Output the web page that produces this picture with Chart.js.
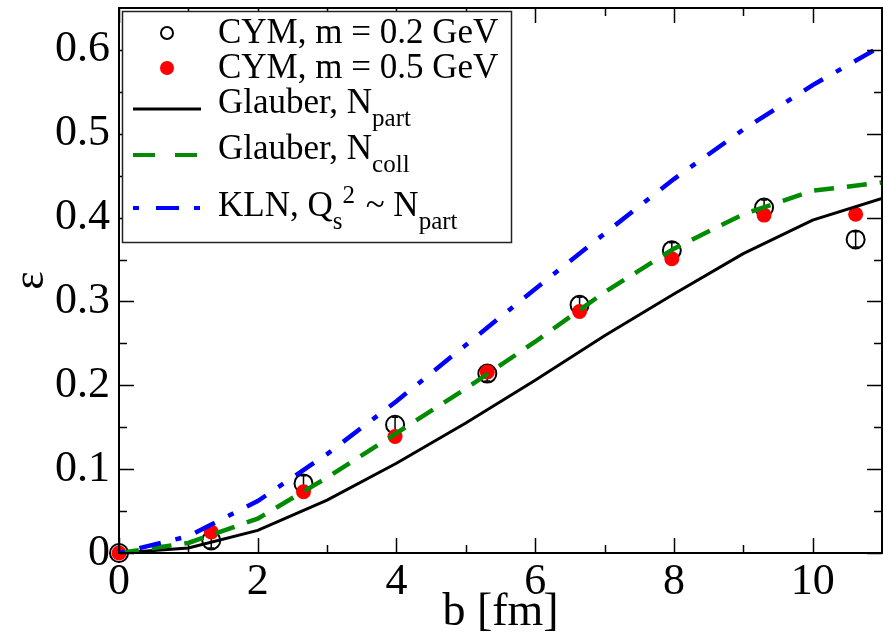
<!DOCTYPE html>
<html>
<head>
<meta charset="utf-8">
<script src="https://cdn.jsdelivr.net/npm/chart.js@4.4.1/dist/chart.umd.min.js"></script>
<style>
html,body{margin:0;padding:0;background:#fff;}
#c{display:block;}
</style>
</head>
<body>
<canvas id="c" width="883" height="636"></canvas>
<script>
// ---- data ----
const bLine = [0, 1, 2, 3, 4, 5, 6, 7, 8, 9, 10, 11];
const glauberNpart = [0, 0.006, 0.027, 0.063, 0.107, 0.155, 0.206, 0.259, 0.309, 0.357, 0.397, 0.423];
const glauberNcoll = [0, 0.012, 0.041, 0.090, 0.143, 0.196, 0.252, 0.311, 0.363, 0.404, 0.432, 0.442];
const klnQs = [0, 0.020, 0.062, 0.118, 0.181, 0.248, 0.315, 0.381, 0.446, 0.505, 0.558, 0.605];

const bCYM = [0, 1.33, 2.66, 3.98, 5.31, 6.64, 7.97, 9.30, 10.62];
const cymM02 = [0, 0.015, 0.083, 0.153, 0.214, 0.296, 0.361, 0.412, 0.374];
const cymM02Err = [0, 0.009, 0.009, 0.009, 0.009, 0.009, 0.009, 0.009, 0.009];
const cymM05 = [0, 0.025, 0.073, 0.139, 0.216, 0.288, 0.351, 0.403, 0.404];

const xTicks = [0, 2, 4, 6, 8, 10];
const xMinorTicks = [1, 3, 5, 7, 9, 11];
const yTicks = [0, 0.1, 0.2, 0.3, 0.4, 0.5, 0.6];
const yMinorTicks = [0.05, 0.15, 0.25, 0.35, 0.45, 0.55, 0.65];

const seriesNames = ["CYM, m = 0.2 GeV", "CYM, m = 0.5 GeV", "Glauber, Npart", "Glauber, Ncoll", "KLN, Qs2 ~ Npart"];
// rich legend text: [text, 0 normal | 1 subscript | 2 superscript]
const legendParts = [
  [["CYM, m = 0.2 GeV", 0]],
  [["CYM, m = 0.5 GeV", 0]],
  [["Glauber, N", 0], ["part", 1]],
  [["Glauber, N", 0], ["coll", 1]],
  [["KLN, Q", 0], ["s", 1], ["2", 2], [" ~ N", 0], ["part", 1]]
];
const xTitle = "b [fm]";
const yTitle = "\u03b5";

const pts = (xs, ys) => xs.map((x, i) => ({x: x, y: ys[i]}));
const FONT = "'Liberation Serif', 'Times New Roman', serif";
Chart.defaults.font.family = FONT;
Chart.defaults.color = '#000';

const BLACK = '#000000', RED = '#ff0000', GREEN = 'rgb(0,139,0)', BLUE = '#0000ff';

const framePlugin = {
  id: 'frame',
  afterDatasetDraw(chart, args) {
    if (args.index !== 0) return;
    const ctx = chart.ctx, xs = chart.scales.x, ys = chart.scales.y;
    ctx.save();
    ctx.strokeStyle = BLACK; ctx.lineWidth = 1.5;
    bCYM.forEach((x, i) => {
      const e = cymM02Err[i]; if (!e) return;
      const px = xs.getPixelForValue(x);
      const y1 = ys.getPixelForValue(cymM02[i] - e), y2 = ys.getPixelForValue(cymM02[i] + e);
      ctx.beginPath(); ctx.moveTo(px, y1); ctx.lineTo(px, y2);
      ctx.moveTo(px - 3, y1); ctx.lineTo(px + 3, y1);
      ctx.moveTo(px - 3, y2); ctx.lineTo(px + 3, y2);
      ctx.stroke();
    });
    ctx.restore();
  },
  afterDraw(chart) {
    const ctx = chart.ctx, a = chart.chartArea, xs = chart.scales.x, ys = chart.scales.y;
    ctx.save();
    ctx.strokeStyle = BLACK;
    ctx.lineWidth = 2;
    ctx.strokeRect(a.left, a.top, a.right - a.left, a.bottom - a.top);
    ctx.lineWidth = 1.5;
    const MAJ = 15, MIN = 8;
    const xt = (v, L) => {
      const p = Math.round(xs.getPixelForValue(v)) + 0.5;
      ctx.beginPath();
      ctx.moveTo(p, a.bottom); ctx.lineTo(p, a.bottom - L);
      ctx.moveTo(p, a.top); ctx.lineTo(p, a.top + L);
      ctx.stroke();
    };
    const yt = (v, L) => {
      const p = Math.round(ys.getPixelForValue(v)) + 0.5;
      ctx.beginPath();
      ctx.moveTo(a.left, p); ctx.lineTo(a.left + L, p);
      ctx.moveTo(a.right, p); ctx.lineTo(a.right - L, p);
      ctx.stroke();
    };
    xTicks.forEach(v => xt(v, MAJ));
    xMinorTicks.forEach(v => { if (v < 11) xt(v, MIN); });
    yTicks.forEach(v => yt(v, MAJ));
    yMinorTicks.forEach(v => { if (v < 0.65) yt(v, MIN); });

    // legend
    const bx = 122, by = 11, bw = 389, bh = 231;
    ctx.fillStyle = '#fff';
    ctx.fillRect(bx, by, bw, bh);
    ctx.lineWidth = 1.5;
    ctx.strokeStyle = '#222';
    ctx.strokeRect(bx + 0.5, by + 0.5, bw, bh);
    const symY = [33, 68, 109, 155, 208];
    const baseY = [43, 78, 113, 159, 216];
    // symbols
    ctx.strokeStyle = BLACK; ctx.lineWidth = 2;
    ctx.beginPath(); ctx.arc(167, symY[0], 6, 0, Math.PI * 2); ctx.stroke();
    ctx.fillStyle = RED;
    ctx.beginPath(); ctx.arc(167, symY[1], 7, 0, Math.PI * 2); ctx.fill();
    ctx.lineCap = 'butt';
    ctx.lineWidth = 3; ctx.strokeStyle = BLACK; ctx.setLineDash([]);
    ctx.beginPath(); ctx.moveTo(133, symY[2]); ctx.lineTo(201, symY[2]); ctx.stroke();
    ctx.lineWidth = 4; ctx.strokeStyle = GREEN; ctx.setLineDash([22, 20]);
    ctx.beginPath(); ctx.moveTo(133, symY[3]); ctx.lineTo(201, symY[3]); ctx.stroke();
    ctx.strokeStyle = BLUE; ctx.setLineDash([6, 17, 23, 15]);
    ctx.beginPath(); ctx.moveTo(133, symY[4]); ctx.lineTo(201, symY[4]); ctx.stroke();
    ctx.setLineDash([]);
    // texts
    ctx.fillStyle = BLACK;
    ctx.textBaseline = 'alphabetic';
    ctx.textAlign = 'left';
    legendParts.forEach((parts, r) => {
      let x = 218;
      parts.forEach(([t, k]) => {
        const size = k === 0 ? 35 : 25;
        ctx.font = size + 'px ' + FONT;
        const y = baseY[r] + (k === 1 ? 13 : k === 2 ? -13 : 0);
        ctx.fillText(t, x, y);
        x += ctx.measureText(t).width + (k === 2 ? 2 : 0);
      });
    });
    ctx.restore();
  }
};

new Chart(document.getElementById('c'), {
  type: 'scatter',
  data: {
    datasets: [
      {label: seriesNames[0], data: pts(bCYM, cymM02), showLine: false, pointStyle: 'circle',
       pointRadius: 9, pointBorderWidth: 2, borderColor: BLACK, backgroundColor: 'rgba(0,0,0,0)', order: 5, clip: false},
      {label: seriesNames[1], data: pts(bCYM, cymM05), showLine: false, pointStyle: 'circle',
       pointRadius: 7.5, pointBorderWidth: 0, borderColor: RED, backgroundColor: RED, order: 4, clip: false},
      {label: seriesNames[2], data: pts(bLine, glauberNpart), showLine: true, pointRadius: 0,
       borderColor: BLACK, borderWidth: 3, tension: 0, order: 3},
      {label: seriesNames[3], data: pts(bLine, glauberNcoll), showLine: true, pointRadius: 0,
       borderColor: GREEN, borderWidth: 4.5, borderDash: [20, 13], tension: 0, order: 2},
      {label: seriesNames[4], data: pts(bLine, klnQs), showLine: true, pointRadius: 0,
       borderColor: BLUE, borderWidth: 4.5, borderDash: [6, 15, 22, 15], tension: 0, order: 1}
    ]
  },
  options: {
    responsive: false,
    animation: false,
    devicePixelRatio: 1,
    layout: {autoPadding: false, padding: {top: 8, right: 1, left: 0, bottom: 0}},
    plugins: {legend: {display: false}, tooltip: {enabled: false}},
    scales: {
      x: {
        type: 'linear', min: 0, max: 11,
        grid: {display: false, drawTicks: false}, border: {display: false},
        afterBuildTicks: s => { s.ticks = xTicks.map(v => ({value: v})); },
        afterFit: s => { s.height = 83; s.paddingLeft = 0; s.paddingRight = 0; s.paddingTop = 0; s.paddingBottom = 0; },
        ticks: {font: {size: 44}, color: BLACK, padding: 3, maxRotation: 0,
                callback: v => String(v)},
        title: {display: true, text: xTitle, font: {size: 46, lineHeight: 1}, color: BLACK, padding: {top: 0, bottom: 0}}
      },
      y: {
        type: 'linear', min: 0, max: 0.65,
        grid: {display: false, drawTicks: false}, border: {display: false},
        afterBuildTicks: s => { s.ticks = yTicks.map(v => ({value: v})); },
        afterFit: s => { s.width = 119; s.paddingLeft = 0; s.paddingRight = 0; s.paddingTop = 0; s.paddingBottom = 0; },
        ticks: {font: {size: 44}, color: BLACK, padding: 9,
                callback: v => String(Math.round(v * 10) / 10)},
        title: {display: true, text: yTitle, font: {size: 44, lineHeight: 1}, color: BLACK, padding: {top: 9, bottom: 0}}
      }
    }
  },
  plugins: [framePlugin]
});
</script>
</body>
</html>
